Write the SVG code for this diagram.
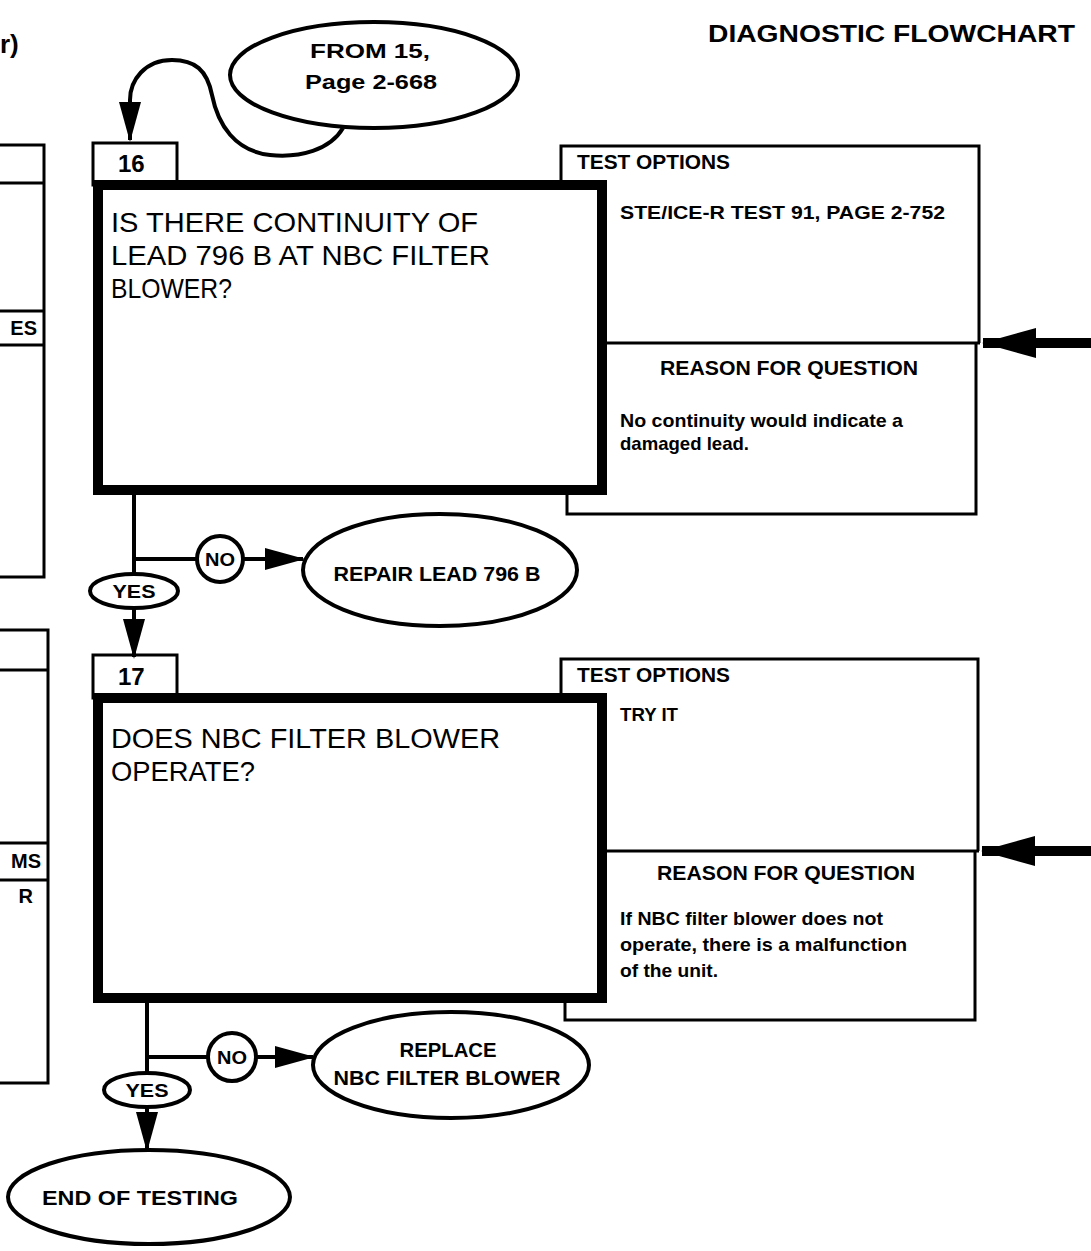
<svg xmlns="http://www.w3.org/2000/svg" width="1091" height="1251" viewBox="0 0 1091 1251">
<defs>
<style>
text{font-family:"Liberation Sans",Arial,sans-serif;fill:#000}
.b{font-weight:bold}
.q{font-size:28px}
.t{font-size:20px;font-weight:bold}
.s{font-size:19px;font-weight:bold}
.e{font-size:20px;font-weight:bold}
.ln{fill:none;stroke:#000;stroke-width:3}
.thick{fill:#fff;stroke:#000;stroke-width:10}
.oval{fill:#fff;stroke:#000;stroke-width:4}
.con{fill:none;stroke:#000;stroke-width:4}
.big{fill:none;stroke:#000;stroke-width:10}
</style>
<marker id="ah" markerUnits="userSpaceOnUse" markerWidth="40" markerHeight="22" refX="38" refY="11" orient="auto" viewBox="0 0 40 22">
<path d="M0,0 L40,11 L0,22 z" fill="#000"/>
</marker>
<marker id="bh" markerUnits="userSpaceOnUse" markerWidth="54" markerHeight="30" refX="53" refY="15" orient="auto" viewBox="0 0 54 30">
<path d="M0,0 L54,15 L0,30 z" fill="#000"/>
</marker>
</defs>
<rect width="1091" height="1251" fill="#fff"/>

<g id="title">
<text x="1075" y="42" class="b" font-size="24" text-anchor="end" textLength="367" lengthAdjust="spacingAndGlyphs">DIAGNOSTIC FLOWCHART</text>
<text x="0" y="53" class="b" font-size="26">r)</text>
</g>

<g id="left-partial-a">
<path class="ln" d="M0,145 H44 V577 H0"/>
<path class="ln" d="M0,183 H44 M0,311 H44 M0,345 H44"/>
<text x="37" y="335" class="t" text-anchor="end">ES</text>
</g>
<g id="left-partial-b">
<path class="ln" d="M0,630 H48 V1083 H0"/>
<path class="ln" d="M0,670 H48 M0,843 H48 M0,880 H48"/>
<text x="41" y="868" class="t" text-anchor="end">MS</text>
<text x="33" y="903" class="t" text-anchor="end">R</text>
</g>

<g id="from15">
<ellipse class="oval" cx="374" cy="75" rx="144" ry="53"/>
<text x="370" y="58" class="e" text-anchor="middle" textLength="120" lengthAdjust="spacingAndGlyphs">FROM 15,</text>
<text x="371" y="89" class="e" text-anchor="middle" textLength="132" lengthAdjust="spacingAndGlyphs">Page 2-668</text>
</g>

<g id="connectors">
<path class="con" d="M343,128 C330,150 300,158 270,155 C235,151 218,125 212,95 C207,70 195,60 172,60 C145,60 130,80 130,100 L130,140" marker-end="url(#ah)"/>
<path class="con" d="M134,495 V575"/>
<path class="con" d="M134,559 H197"/>
<path class="con" d="M243,559 H303" marker-end="url(#ah)"/>
<path class="con" d="M134,608 V657" marker-end="url(#ah)"/>
<path class="big" d="M1091,343 H983" marker-end="url(#bh)"/>
<path class="con" d="M147,1003 V1073"/>
<path class="con" d="M147,1057 H208"/>
<path class="con" d="M256,1057 H313" marker-end="url(#ah)"/>
<path class="con" d="M147,1107 V1150" marker-end="url(#ah)"/>
<path class="big" d="M1091,851 H982" marker-end="url(#bh)"/>
</g>

<g id="step16">
<path class="ln" d="M561,186 V146 H979 V343 M602,343 H980 M976,343 V514 H567 V490"/>
<rect class="ln" x="93" y="143" width="84" height="42" fill="#fff"/>
<rect class="thick" x="98" y="185" width="504" height="305"/>
<text x="118" y="172" class="b" font-size="24">16</text>
<text x="111" y="232" class="q" textLength="367" lengthAdjust="spacingAndGlyphs">IS THERE CONTINUITY OF</text>
<text x="111" y="265" class="q" textLength="379" lengthAdjust="spacingAndGlyphs">LEAD 796 B AT NBC FILTER</text>
<text x="111" y="298" class="q" textLength="121" lengthAdjust="spacingAndGlyphs">BLOWER?</text>
<text x="577" y="169" class="t" textLength="153" lengthAdjust="spacingAndGlyphs">TEST OPTIONS</text>
<text x="620" y="219" class="s" textLength="325" lengthAdjust="spacingAndGlyphs">STE/ICE-R TEST 91, PAGE 2-752</text>
<text x="660" y="375" class="t" textLength="258" lengthAdjust="spacingAndGlyphs">REASON FOR QUESTION</text>
<text x="620" y="427" class="s" textLength="283" lengthAdjust="spacingAndGlyphs">No continuity would indicate a</text>
<text x="620" y="450" class="s" textLength="129" lengthAdjust="spacingAndGlyphs">damaged lead.</text>
</g>

<g id="no16">
<circle class="oval" cx="220" cy="559" r="23" stroke-width="3"/>
<text x="220" y="566" class="b" font-size="18" text-anchor="middle" textLength="30" lengthAdjust="spacingAndGlyphs">NO</text>
</g>
<g id="yes16">
<ellipse class="oval" cx="134" cy="591" rx="44" ry="17" stroke-width="3"/>
<text x="134" y="598" class="b" font-size="18" text-anchor="middle" textLength="43" lengthAdjust="spacingAndGlyphs">YES</text>
</g>
<g id="repair">
<ellipse class="oval" cx="440" cy="570" rx="137" ry="56"/>
<text x="437" y="581" class="e" text-anchor="middle" textLength="207" lengthAdjust="spacingAndGlyphs">REPAIR LEAD 796 B</text>
</g>

<g id="step17">
<path class="ln" d="M561,699 V659 H978 V851 M602,851 H979 M975,851 V1020 H565 V998"/>
<rect class="ln" x="93" y="655" width="84" height="43" fill="#fff"/>
<rect class="thick" x="98" y="698" width="504" height="300"/>
<text x="118" y="685" class="b" font-size="24">17</text>
<text x="111" y="748" class="q" textLength="389" lengthAdjust="spacingAndGlyphs">DOES NBC FILTER BLOWER</text>
<text x="111" y="781" class="q" textLength="144" lengthAdjust="spacingAndGlyphs">OPERATE?</text>
<text x="577" y="682" class="t" textLength="153" lengthAdjust="spacingAndGlyphs">TEST OPTIONS</text>
<text x="620" y="721" class="s" textLength="58" lengthAdjust="spacingAndGlyphs">TRY IT</text>
<text x="657" y="880" class="t" textLength="258" lengthAdjust="spacingAndGlyphs">REASON FOR QUESTION</text>
<text x="620" y="925" class="s" textLength="263" lengthAdjust="spacingAndGlyphs">If NBC filter blower does not</text>
<text x="620" y="951" class="s" textLength="287" lengthAdjust="spacingAndGlyphs">operate, there is a malfunction</text>
<text x="620" y="977" class="s" textLength="98" lengthAdjust="spacingAndGlyphs">of the unit.</text>
</g>

<g id="no17">
<circle class="oval" cx="232" cy="1057" r="24" stroke-width="3"/>
<text x="232" y="1064" class="b" font-size="18" text-anchor="middle" textLength="30" lengthAdjust="spacingAndGlyphs">NO</text>
</g>
<g id="yes17">
<ellipse class="oval" cx="147" cy="1090" rx="43" ry="17" stroke-width="3"/>
<text x="147" y="1097" class="b" font-size="18" text-anchor="middle" textLength="43" lengthAdjust="spacingAndGlyphs">YES</text>
</g>
<g id="replace">
<ellipse class="oval" cx="451" cy="1065" rx="138" ry="53"/>
<text x="448" y="1057" class="e" text-anchor="middle" textLength="97" lengthAdjust="spacingAndGlyphs">REPLACE</text>
<text x="447" y="1085" class="e" text-anchor="middle" textLength="227" lengthAdjust="spacingAndGlyphs">NBC FILTER BLOWER</text>
</g>
<g id="end">
<ellipse class="oval" cx="149" cy="1197" rx="141" ry="47"/>
<text x="140" y="1205" class="e" text-anchor="middle" textLength="196" lengthAdjust="spacingAndGlyphs">END OF TESTING</text>
</g>
</svg>
